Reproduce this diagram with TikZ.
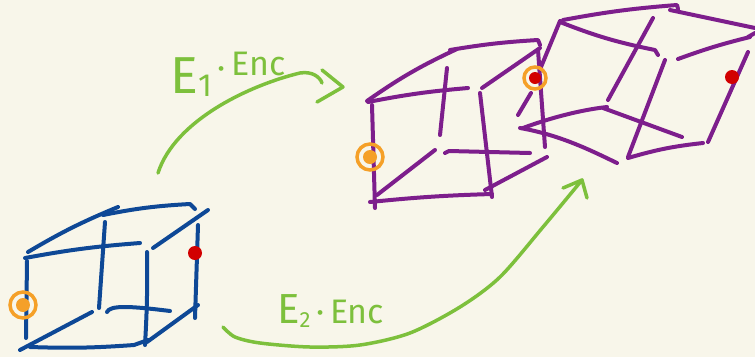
\documentclass[tikz,border=0pt]{standalone}
\usepackage{fontspec}
\setmainfont{Fira Sans}
\usepackage{tikz}
\definecolor{mycream}{RGB}{248,246,234}
\definecolor{myblue}{RGB}{14,72,150}
\definecolor{mypurple}{RGB}{125,30,140}
\definecolor{mygreen}{RGB}{125,192,60}
\definecolor{myorange}{RGB}{245,160,40}
\definecolor{myred}{RGB}{210,0,0}
\usetikzlibrary{calc,positioning}
\tikzstyle{ring}=[draw=myorange,line width=3.5pt,circle,inner sep=0pt,minimum size=26pt]
\tikzstyle{spot}=[circle,inner sep=0pt,minimum size=14pt]

\begin{document}
\begin{tikzpicture}[
  x=1pt,y=-1pt,
  pen/.style={
    line width=4pt,
    line cap=round,
    line join=round
    },
  bluepen/.style={pen,draw=myblue},
  purplepen/.style={pen,draw=mypurple},
  greenpen/.style={
    line width=3.5pt,
    line cap=round,
    line join=round,
    draw=mygreen
    },
  lbl/.style={text=mygreen,inner sep=0pt}
]
\fill[mycream] (0,0) rectangle (755,357);
\useasboundingbox (0,0) rectangle (755,357);

\draw[bluepen] (28,252) to[bend left=4] (118,207);
\draw[bluepen] (103,215) to[bend left=4] (190,204) -- (195,209);
\draw[bluepen] (153,248) -- (208,210);
\draw[bluepen] (25,258) to[bend left=3] (140,243);
\draw[bluepen] (27,261) -- (26,338);
\draw[bluepen] (105,222) -- (99,308);
\draw[bluepen] (147,252) to[bend left=2] (145,345);
\draw[bluepen] (198,225) -- (195,318);
\draw[bluepen] (107,312) .. controls (110,305) and (130,306) .. (170,311);
\draw[bluepen] (92,312) -- (20,350);
\draw[bluepen] (30,347) to[bend right=3] (134,345) -- (148,340);
\draw[bluepen] (147,342) -- (198,305);
\node[ring] (bluering) at (23,305) {};
\node[spot,fill=myorange] (bluegold) at (bluering) {};
\node[spot,fill=myred] (bluered) at (195,253) {};

\draw[purplepen] (367,101) to[bend left=5] (457,49);
\draw[purplepen] (450,50) to[bend left=3] (538,40) -- (540,45);
\draw[purplepen] (482,88) -- (540,48);
\draw[purplepen] (368,102) to[bend left=3] (468,88);
\draw[purplepen] (372,105) -- (375,208);
\draw[purplepen] (447,68) -- (440,135);
\draw[purplepen] (480,93) -- (492,197);
\draw[purplepen] (538,50) -- (545,147);
\draw[purplepen] (445,153) -- (449,151) -- (530,153);
\draw[purplepen] (435,150) -- (377,195);
\draw[purplepen] (370,202) to[bend left=2] (492,194);
\draw[purplepen] (485,190) -- (547,157);
\node[ring] (purplering) at (370,157) {};
\node[spot,fill=myorange] (purplegold) at (purplering) {};

\draw[purplepen] (563,20) to[bend left=3] (677,5) -- (678,9);
\draw[purplepen] (560,22) to[bend right=5] (655,50) -- (658,55);
\draw[purplepen] (670,10) -- (755,28);
\draw[purplepen] (748,37) -- (755,33);
\draw[purplepen] (678,59) to[bend left=3] (750,37);
\draw[purplepen] (653,18) -- (608,100);
\draw[purplepen] (665,60) -- (628,157);
\draw[purplepen] (748,52) -- (708,142);
\draw[purplepen] (560,21) -- (541,67);
\draw[purplepen] (531,93) -- (518,115);
\draw[purplepen] (523,128) .. controls (550,118) and (580,110) .. (607,107);
\draw[purplepen] (603,108) -- (682,137);
\draw[purplepen] (520,128) .. controls (560,135) and (590,150) .. (617,163);
\draw[purplepen] (628,158) to[bend left=5] (703,143);
\node[ring,minimum size=22pt] (midring) at (535,78) {};
\node[spot,fill=myred,minimum size=12pt] (midred) at (midring) {};
\node[spot,fill=myred] (farred) at (732,77) {};

\coordinate (upfrom) at (158,173);
\coordinate (upto) at (322,83);
\coordinate (uptip) at (343,87);
\draw[greenpen] (upfrom) .. controls (175,120) and (250,85) .. (300,73)
  .. controls (312,71) and (320,77) .. (upto);
\draw[greenpen] (322,70) -- (uptip) -- (317,102);
\node[lbl,anchor=base west] (lblone) at (170,93)
  {{\fontsize{52}{52}\selectfont E}{\fontsize{32}{32}\selectfont\raisebox{-3pt}{1}}{\fontsize{34}{34}\selectfont\,\raisebox{14pt}{·}\,\raisebox{18pt}{Enc}}};

\coordinate (lowfrom) at (223,327);
\coordinate (lowtip) at (582,180);
\draw[greenpen] plot[smooth] coordinates {(lowfrom) (235,337) (260,343) (310,347) (360,345) (410,333) (460,307) (500,277) (543,227) (lowtip)};
\draw[greenpen] (563,188) -- (lowtip) -- (587,198);
\node[lbl,anchor=base west] (lbltwo) at (277,323)
  {{\fontsize{42}{42}\selectfont E}{\fontsize{22}{22}\selectfont\raisebox{-4pt}{2}}{\fontsize{34}{34}\selectfont\,·\,Enc}};

\end{tikzpicture}
\end{document}
